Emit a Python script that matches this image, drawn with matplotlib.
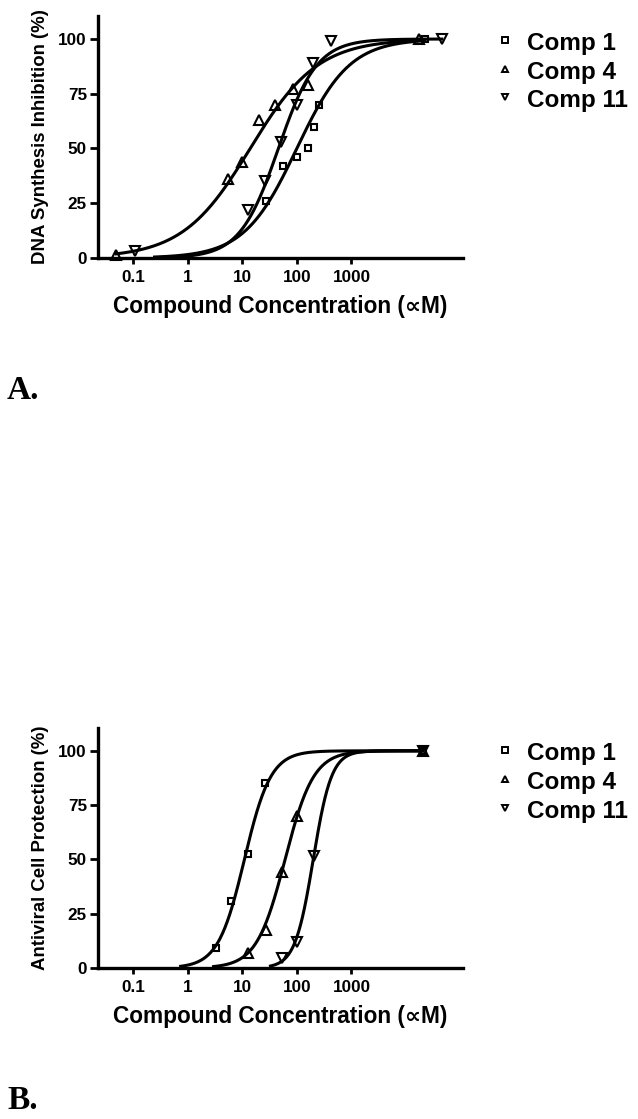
import numpy as np
import matplotlib
matplotlib.use("Agg")
import matplotlib.pyplot as plt
from matplotlib import font_manager

plt.rcParams['font.family'] = ['Liberation Sans', 'DejaVu Sans']
plt.rcParams['font.weight'] = 'bold'

# Panel A: DNA synthesis inhibition (%)
a_comp1_x = [27, 55, 100, 160, 210, 255, 22000]
a_comp1_y = [26, 42, 46, 50, 60, 70, 100]
a_comp4_x = [0.05, 5.4, 10, 20, 40, 85, 160, 17000]
a_comp4_y = [1.5, 36, 44, 63, 70, 77, 79, 100]
a_comp11_x = [0.11, 13, 26, 51, 100, 200, 420, 45000]
a_comp11_y = [3, 22, 35, 53, 70, 89, 99, 100]

# Panel B: antiviral cell protection (%)
b_comp1_x = [3.3, 6.2, 12.6, 26, 20000]
b_comp1_y = [9, 31, 52.5, 85, 100]
b_comp4_x = [12.6, 27, 53, 100, 20000]
b_comp4_y = [7, 17.5, 44, 70, 100]
b_comp11_x = [53, 100, 205, 20000]
b_comp11_y = [4.6, 12, 51.6, 100]

# fitted curves: (EC50, hill slope, x range)
a_fits = [(100, 0.9, 0.25, 22000), (14, 0.7, 0.05, 17000), (46, 1.23, 0.25, 45000)]
b_fits = [(11, 1.8, 0.75, 20000), (61, 1.66, 3, 20000), (200, 2.6, 33, 20000)]

labels = ['Comp 1', 'Comp 4', 'Comp 11']
markers = ['s', '^', 'v']
msizes = [5, 6.5, 6.5]
xticks = [0.1, 1, 10, 100, 1000]
xticklabels = ['0.1', '1', '10', '100', '1000']
yticks = [0, 25, 50, 75, 100]

names = {f.name for f in font_manager.fontManager.ttflist}
if 'Liberation Sans Narrow' in names:
    leg_family, leg_size = ['Liberation Sans Narrow', 'DejaVu Sans'], 20.5
else:
    leg_family, leg_size = ['Liberation Sans', 'DejaVu Sans'], 17.5


def hill(x, ec50, h):
    return 100.0 / (1.0 + (ec50 / x) ** h)


W, H = 638, 1119
fig = plt.figure(figsize=(W / 100, H / 100), dpi=100)


def panel(rect, xs, ys, fits, ylabel, leg_y, letter, letter_y):
    ax = fig.add_axes(rect)
    for i in range(3):
        ec50, h, lo, hi = fits[i]
        cx = np.logspace(np.log10(lo), np.log10(hi), 400)
        ax.plot(cx, hill(cx, ec50, h), color='black', lw=2.2, clip_on=False, zorder=2)
        ax.plot(xs[i], ys[i], linestyle='none', marker=markers[i], ms=msizes[i],
                mfc='none', mec='black', mew=1.5, clip_on=False, zorder=3)
    ax.set_xscale('log')
    ax.set_xlim(0.023, 1.1e5)
    ax.set_ylim(0, 110.5)
    ax.set_xticks(xticks)
    ax.set_xticklabels(xticklabels)
    ax.minorticks_off()
    ax.set_yticks(yticks)
    for s in ['top', 'right']:
        ax.spines[s].set_visible(False)
    for s in ['left', 'bottom']:
        ax.spines[s].set_linewidth(2.4)
    ax.tick_params(axis='y', length=6, width=2, labelsize=12.3, pad=2)
    ax.tick_params(axis='x', length=4.5, width=2, labelsize=12.3, pad=4)
    ax.set_xlabel('Compound Concentration (∝M)', fontsize=16.3, fontweight='bold', labelpad=7)
    ax.set_ylabel(ylabel, fontsize=13.4, fontweight='bold', labelpad=7)

    # legend
    for i in range(3):
        yc = leg_y[i]
        ax.plot([505 / W], [1 - yc / H], transform=fig.transFigure, marker=markers[i],
                ms=4.2, mfc='none', mec='black', mew=1.4, clip_on=False)
        fig.text(527 / W, 1 - (yc + 10) / H, labels[i], family=leg_family,
                 fontsize=leg_size, fontweight='bold', va='baseline', ha='left')
    fig.text(7 / W, 1 - letter_y / H, letter, family=['Liberation Serif', 'DejaVu Serif'],
             fontsize=24, fontweight='bold', va='baseline', ha='left')
    return ax


panel([98 / W, 1 - 258 / H, 365 / W, 242 / H],
      [a_comp1_x, a_comp4_x, a_comp11_x], [a_comp1_y, a_comp4_y, a_comp11_y], a_fits,
      'DNA Synthesis Inhibition (%)', [40, 68.5, 97], 'A.', 399)
panel([98 / W, 1 - 968 / H, 365 / W, 240 / H],
      [b_comp1_x, b_comp4_x, b_comp11_x], [b_comp1_y, b_comp4_y, b_comp11_y], b_fits,
      'Antiviral Cell Protection (%)', [750, 779, 808], 'B.', 1109)

fig.savefig('out.png', dpi=100)
